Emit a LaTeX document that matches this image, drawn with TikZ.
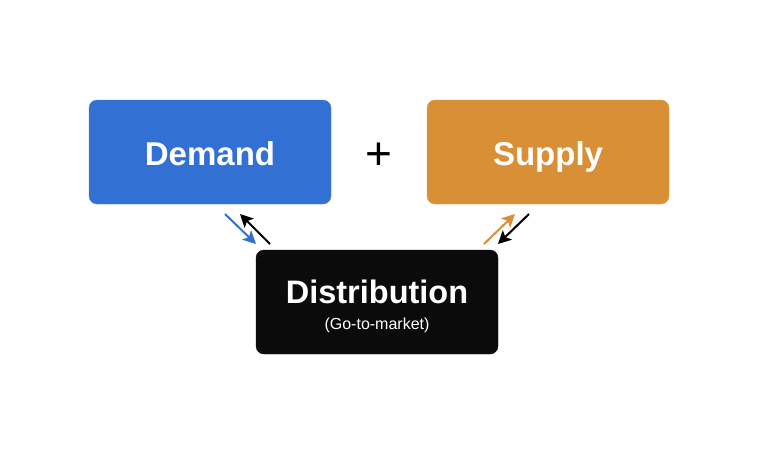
\documentclass[tikz,border=0pt]{standalone}
\usepackage{fontspec}
\setmainfont{Liberation Sans}
\usetikzlibrary{arrows.meta}
\definecolor{dblue}{HTML}{3370D4}
\definecolor{dorange}{HTML}{D98F35}
\definecolor{dblack}{HTML}{0B0B0B}
\begin{document}
\begin{tikzpicture}[x=1pt,y=-1pt,
  card/.style={rounded corners=8pt,minimum width=242pt,minimum height=104pt,inner sep=0pt},
  big/.style={text=white,font=\bfseries\fontsize{33}{38}\selectfont,anchor=base,inner sep=0pt},
  conn/.style={line width=2pt,-{Stealth[length=13pt,width=13pt,inset=3pt]}}]
\useasboundingbox (0,0) rectangle (759,455);
\node[card,fill=dblue,draw=dblue!85!white] (dem) at (210,152) {};
\node[card,fill=dorange,draw=dorange!85!white] (sup) at (548,152) {};
\node[card,fill=dblack,draw=dblack] (dis) at (377,302) {};
\node[big] (demtxt) at (210,165) {Demand};
\node[big] (suptxt) at (548,165) {Supply};
\node[big,font=\bfseries\fontsize{32.5}{38}\selectfont] (distxt) at (377,303) {Distribution};
\node[text=white,font=\fontsize{16}{19}\selectfont,anchor=base,inner sep=0pt] (gtm) at (377,329) {(Go-to-market)};
\node[font=\fontsize{46}{50}\selectfont] (plus) at (379,156) {+};
\coordinate (a1) at (225,214); \coordinate (a2) at (256,244);
\coordinate (b1) at (270,244); \coordinate (b2) at (240,214);
\coordinate (c1) at (484,244); \coordinate (c2) at (515,214);
\coordinate (d1) at (529,214); \coordinate (d2) at (498,244);
\draw[conn,dblue] (a1) -- (a2);
\draw[conn,black] (b1) -- (b2);
\draw[conn,dorange] (c1) -- (c2);
\draw[conn,black] (d1) -- (d2);
\end{tikzpicture}
\end{document}
